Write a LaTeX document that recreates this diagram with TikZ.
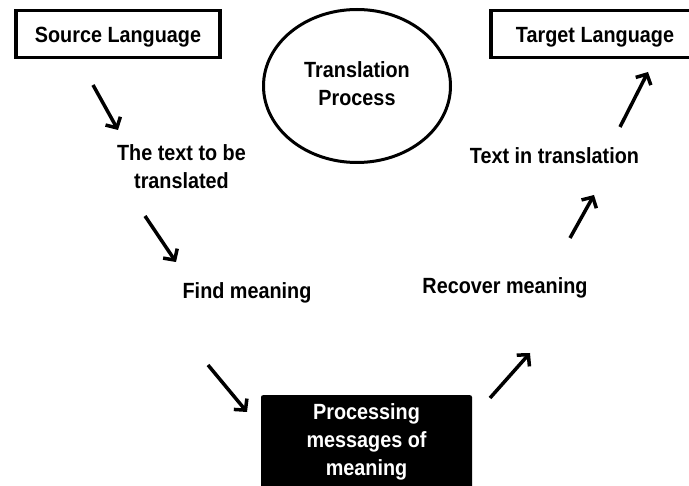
\documentclass[tikz,border=0pt]{standalone}
\usepackage{fontspec}
\setmainfont{Liberation Sans}[FakeStretch=0.9]
\usetikzlibrary{shapes.geometric,arrows.meta}
\begin{document}
\begin{tikzpicture}[x=1pt,y=-1pt,
  txt/.style={font=\bfseries\fontsize{22}{28}\selectfont, align=center, inner sep=0pt},
  lbox/.style={draw, line width=3.5pt, minimum width=204pt, minimum height=47pt,
    text height=18pt, text depth=0pt, inner sep=0pt, font=\bfseries\fontsize{22}{28}\selectfont},
  arr/.style={line width=3.5pt, -{Straight Barb[length=8pt,width=17pt]}}]
\useasboundingbox (0,0) rectangle (689,486);
\clip (0,0) rectangle (689,486);
\fill[white] (0,0) rectangle (689,486);
% boxes and labels
\node[lbox] (src) at (118,34) {Source Language};
\node[lbox, minimum width=208pt] (tgt) at (595,34) {Target Language};
\node[ellipse, draw, line width=3pt, minimum width=187pt, minimum height=153pt, txt] (proc) at (357,86) {\strut Translation\\Process\strut};
\node[txt, anchor=north] (ttb) at (181.5,141.1) {\strut The text to be\\translated};
\node[txt, anchor=north] (find) at (247,278.7) {\strut Find meaning};
\node[txt, fill=black, text=white, anchor=north, minimum width=211pt, inner ysep=4.4pt, rounded corners=2pt] (msg) at (366.5,395) {\strut Processing\\messages of\\meaning\strut};
\node[txt, anchor=north] (rec) at (505,273.7) {\strut Recover meaning};
\node[txt, anchor=north] (tit) at (554.5,143.7) {\strut Text in translation};
% arrow end points
\coordinate (a1s) at (93,85);   \coordinate (a1e) at (118,130);
\coordinate (a2s) at (145,216); \coordinate (a2e) at (176,262);
\coordinate (a3s) at (208,365); \coordinate (a3e) at (247,412);
\coordinate (a4s) at (490,398); \coordinate (a4e) at (530,353);
\coordinate (a5s) at (570,238); \coordinate (a5e) at (594,195);
\coordinate (a6s) at (620,127); \coordinate (a6e) at (648,72);
\draw[arr] (a1s) -- (a1e);
\draw[arr] (a2s) -- (a2e);
\draw[arr] (a3s) -- (a3e);
\draw[arr] (a4s) -- (a4e);
\draw[arr] (a5s) -- (a5e);
\draw[arr] (a6s) -- (a6e);
\end{tikzpicture}
\end{document}
